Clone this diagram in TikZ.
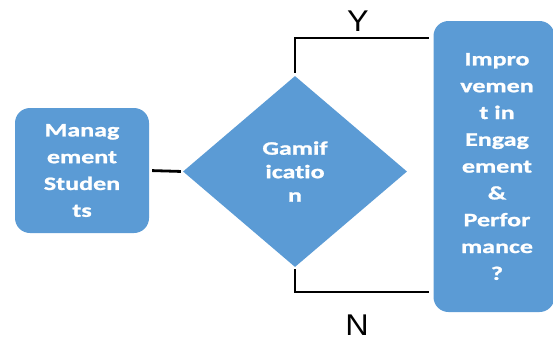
\documentclass[tikz,border=0pt]{standalone}
\usepackage{fontspec}
\setmainfont{Carlito}
% wide heavy face for the block texts, ligatures off
\newfontfamily\boxfont{Carlito}[FakeStretch=1.37, Ligatures=NoCommon, BoldFeatures={FakeBold=1.2}]
\newfontfamily\labelfont{Liberation Sans}[FakeStretch=1.08]
\usetikzlibrary{shapes.geometric}
\definecolor{boxblue}{HTML}{5B9BD5}
\tikzset{
  blockbox/.style={draw=none, fill=boxblue, rounded corners=15pt, inner sep=0pt,
    text=white, align=center, font=\boxfont\bfseries\fontsize{19}{26.8}\selectfont},
  decision/.style={diamond, draw=none, fill=boxblue, inner sep=0pt,
    minimum width=224pt, minimum height=191pt, aspect=1.17,
    text=white, align=center, font=\boxfont\bfseries\fontsize{19}{23.5}\selectfont},
  link/.style={draw=black, line width=2.8pt},
  branch/.style={font=\labelfont\fontsize{30}{30}\selectfont, inner sep=0pt}
}
\begin{document}
\begin{tikzpicture}[x=1pt,y=1pt]
  \useasboundingbox (0,0) rectangle (553,-341);
  % blocks
  \node[blockbox, minimum width=134pt, minimum height=125pt] (ms) at (82,-170.5)
    {Manag\\ement\\Studen\\ts};
  \node[decision] (gam) at (295,-171.5) {Gamif\\icatio\\n};
  \node[blockbox, minimum width=121pt, minimum height=291pt] (imp) at (494,-166.5)
    {\hspace*{6pt}Impro\\\hspace*{6pt}vemen\\\hspace*{6pt}t in\\\hspace*{6pt}Engag\\\hspace*{6pt}ement\\\hspace*{6pt}\&\\\hspace*{6pt}Perfor\\\hspace*{6pt}mance\\\hspace*{6pt}?};
  % bend points of the two branches
  \coordinate (yend) at (429,-38);
  \coordinate (nend) at (429,-292);
  % connectors
  \draw[link, shorten <=3pt, shorten >=2pt] (ms.east) -- (gam.west);
  \draw[link, shorten <=3pt] (gam.north) |- (yend);
  \draw[link, shorten <=2pt] (gam.south) |- (nend);
  % branch labels
  \node[branch] (ylab) at (358,-21) {Y};
  \node[branch] (nlab) at (357,-325.5) {N};
\end{tikzpicture}
\end{document}
